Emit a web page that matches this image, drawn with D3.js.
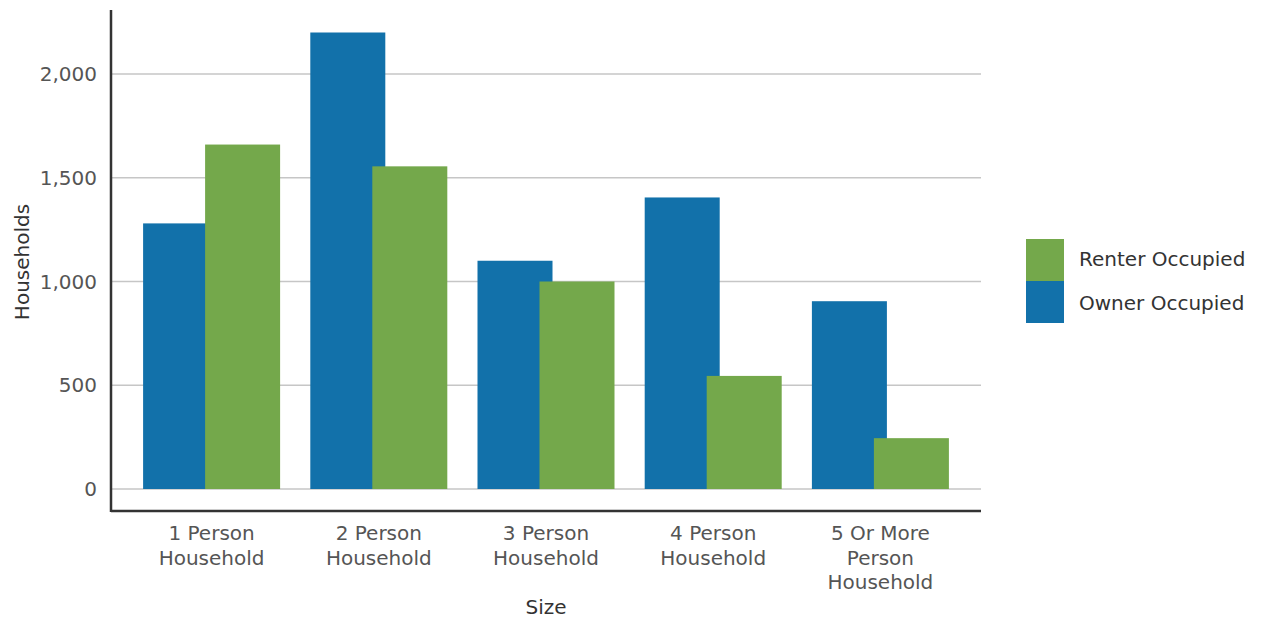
<!DOCTYPE html>
<html>
<head>
<meta charset="utf-8">
<script src="https://cdn.jsdelivr.net/npm/d3@7"></script>
<style>
  body { margin: 0; background: #fff; }
  text { font-family: "DejaVu Sans", sans-serif; }
</style>
</head>
<body>
<div id="chart"></div>
<script>
// data
const categories = [["1 Person", "Household"], ["2 Person", "Household"], ["3 Person", "Household"],
                    ["4 Person", "Household"], ["5 Or More", "Person", "Household"]];
const owner = [1280, 2200, 1100, 1405, 905];
const renter = [1660, 1555, 1000, 545, 245];
const yTicks = [0, 500, 1000, 1500, 2000];
const seriesNames = ["Renter Occupied", "Owner Occupied"];

const W = 1262, H = 623;
const blue = "#1271aa", green = "#74a84b";
const fs = "20px";

const svg = d3.select("#chart").append("svg")
  .attr("width", W).attr("height", H);

// plot frame
const plotLeft = 111, plotRight = 981, plotTop = 10, plotBottom = 511;

var x = d3.scaleBand()
  .domain(d3.range(categories.length))
  .range([128, 964])
  .paddingInner(0).paddingOuter(0);

var y = d3.scaleLinear()
  .domain([0, 2000])
  .range([489, 74]);

// gridlines
svg.append("g")
  .selectAll("line")
  .data(yTicks)
  .join("line")
    .attr("x1", plotLeft).attr("x2", plotRight)
    .attr("y1", d => y(d)).attr("y2", d => y(d))
    .attr("stroke", "#c6c6c6").attr("stroke-width", 1.5);

// y tick labels
svg.append("g")
  .selectAll("text")
  .data(yTicks)
  .join("text")
    .attr("x", 97)
    .attr("y", d => y(d))
    .attr("dy", "0.35em")
    .attr("text-anchor", "end")
    .style("font-size", fs)
    .style("fill", "#555")
    .text(d => d3.format(",")(d));

// bars: owner first, renter overlaps on top
const barW = 75, offset = 62;
const gx = i => x(i) + (x.bandwidth() - (offset + barW)) / 2;

svg.append("g")
  .selectAll("rect")
  .data(owner)
  .join("rect")
    .attr("x", (d, i) => gx(i))
    .attr("y", d => y(d))
    .attr("width", barW)
    .attr("height", d => y(0) - y(d))
    .attr("fill", blue);

svg.append("g")
  .selectAll("rect")
  .data(renter)
  .join("rect")
    .attr("x", (d, i) => gx(i) + offset)
    .attr("y", d => y(d))
    .attr("width", barW)
    .attr("height", d => y(0) - y(d))
    .attr("fill", green);

// axis lines
svg.append("line")
  .attr("x1", plotLeft).attr("x2", plotLeft)
  .attr("y1", plotTop).attr("y2", plotBottom + 1)
  .attr("stroke", "#333").attr("stroke-width", 2.5);
svg.append("line")
  .attr("x1", plotLeft).attr("x2", plotRight)
  .attr("y1", plotBottom).attr("y2", plotBottom)
  .attr("stroke", "#333").attr("stroke-width", 2.5);

// x category labels
const xl = svg.append("g")
  .selectAll("text")
  .data(categories)
  .join("text")
    .attr("x", (d, i) => x(i) + x.bandwidth() / 2)
    .attr("y", 540)
    .attr("text-anchor", "middle")
    .style("font-size", fs)
    .style("fill", "#555");
xl.selectAll("tspan")
  .data(d => d)
  .join("tspan")
    .attr("x", function () { return this.parentNode.getAttribute("x"); })
    .attr("dy", (d, i) => i == 0 ? 0 : 24.5)
    .text(d => d);

// axis titles
svg.append("text")
  .attr("x", 546).attr("y", 614)
  .attr("text-anchor", "middle")
  .style("font-size", fs)
  .style("fill", "#333")
  .text("Size");

svg.append("text")
  .attr("transform", "translate(29,262) rotate(-90)")
  .attr("text-anchor", "middle")
  .style("font-size", fs)
  .style("fill", "#333")
  .text("Households");

// legend
const legColors = [green, blue];
const leg = svg.append("g").attr("transform", "translate(1026,239)");
leg.selectAll("rect")
  .data(seriesNames)
  .join("rect")
    .attr("x", 0)
    .attr("y", (d, i) => i * 42)
    .attr("width", 38).attr("height", 42)
    .attr("fill", (d, i) => legColors[i]);
leg.selectAll("text")
  .data(seriesNames)
  .join("text")
    .attr("x", 53)
    .attr("y", (d, i) => i * 44 + 20)
    .attr("dy", "0.35em")
    .style("font-size", fs)
    .style("fill", "#333")
    .text(d => d);
</script>
</body>
</html>
